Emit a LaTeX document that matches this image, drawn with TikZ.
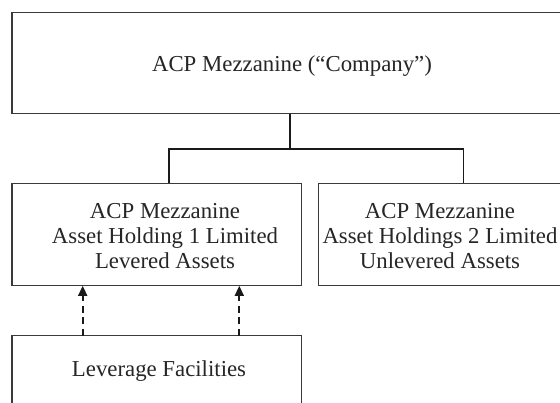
\documentclass[tikz,border=0pt]{standalone}
\usepackage{fontspec}
\setmainfont{Liberation Serif}
\usetikzlibrary{arrows.meta}
\definecolor{boxline}{HTML}{3A3A3A}
\definecolor{conn}{HTML}{1A1A1A}
\tikzset{
  orgbox/.style={draw=boxline, line width=1.1pt, rectangle, inner sep=0pt},
  lbl/.style={font=\fontsize{22.8}{25}\selectfont, align=center, inner sep=0pt, text=black!85},
  link/.style={draw=conn, line width=1.4pt},
  lev/.style={draw=conn, line width=1.7pt, dash pattern=on 7pt off 4.5pt, -{Triangle[length=10pt,width=9pt]}}
}
\begin{document}
\begin{tikzpicture}[x=1pt,y=-1pt]
\useasboundingbox (0,0) rectangle (560,402);
\fill[white] (0,0) rectangle (560,402);
\clip (0,0) rectangle (560,402);
% boxes
\node[orgbox, minimum width=560pt, minimum height=101.3pt] (top) at (292,62.7) {};
\node[orgbox, minimum width=289.7pt, minimum height=101.5pt] (left) at (156.85,234.5) {};
\node[orgbox, minimum width=250pt, minimum height=101.5pt] (right) at (443.5,234.5) {};
\node[orgbox, minimum width=289.7pt, minimum height=100pt] (bot) at (156.85,385.7) {};
% texts
\node[lbl, anchor=base] (toptxt) at (292,71.7) {ACP Mezzanine (“Company”)};
\node[lbl, anchor=base] (lefttxt) at (165,268.3) {ACP Mezzanine\\Asset Holding 1 Limited\\Levered Assets};
\node[lbl, anchor=base] (righttxt) at (440,268.3) {ACP Mezzanine\\Asset Holdings 2 Limited\\Unlevered Assets};
\node[lbl, anchor=base] (bottxt) at (159,376.7) {Leverage Facilities};
% connectors
\coordinate (j) at (290,149);
\coordinate (lj) at (169,149);
\coordinate (rj) at (463.7,149);
\draw[link] (top.south -| j) -- (j);
\draw[link] (lj |- left.north) -- (lj) -- (rj) -- (rj |- right.north);
\coordinate (a1) at (82.7,335.7);
\coordinate (a2) at (239.3,335.7);
\draw[lev] (a1) -- (a1 |- left.south);
\draw[lev] (a2) -- (a2 |- left.south);
\end{tikzpicture}
\end{document}
